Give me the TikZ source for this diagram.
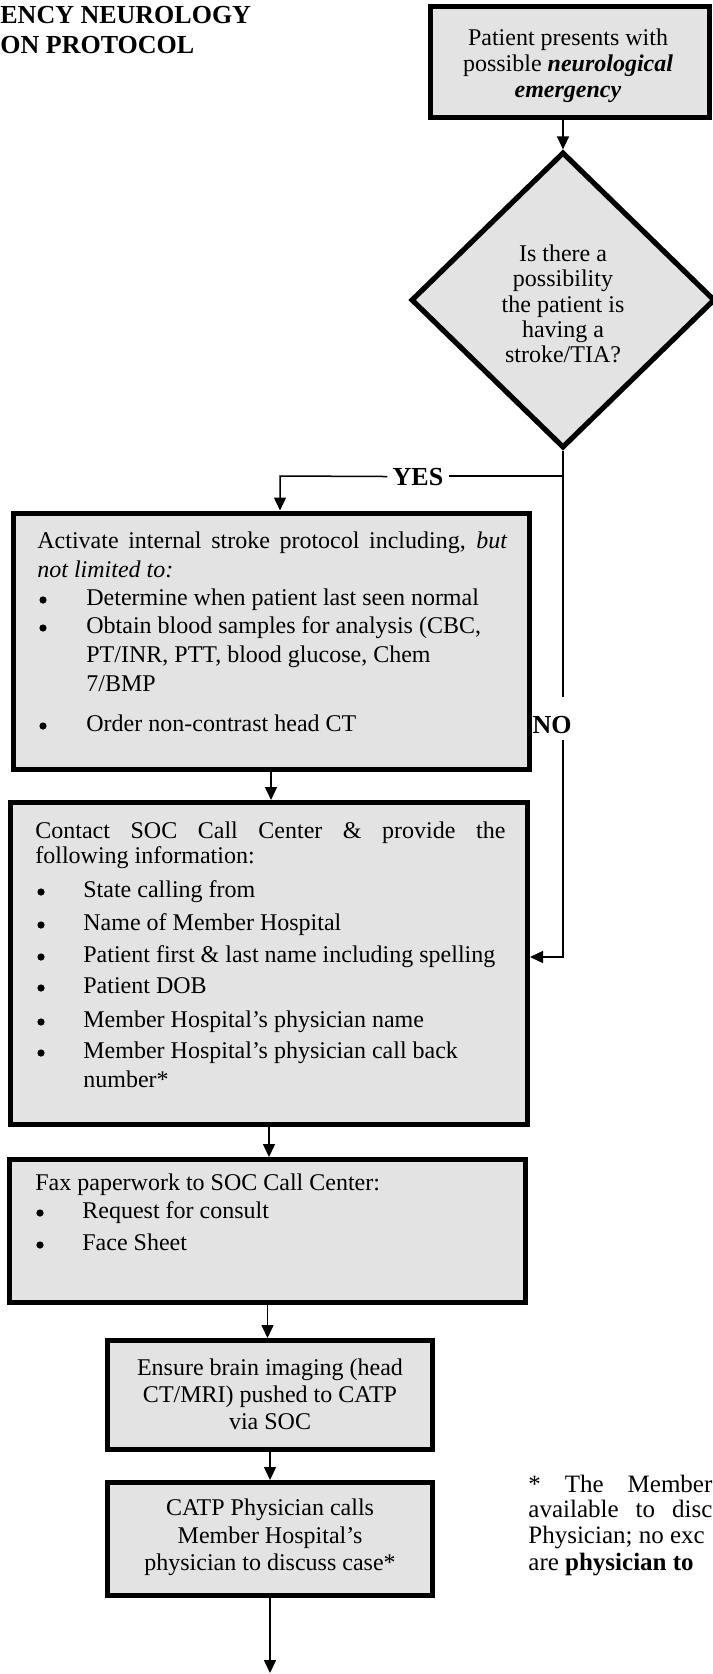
\documentclass[tikz,border=0pt]{standalone}
\usepackage{fontspec}
\setmainfont{Liberation Serif}
\usetikzlibrary{arrows.meta,shapes.geometric,fit}
\definecolor{boxfill}{gray}{0.89}
\newcommand\bodyfs{\fontsize{12pt}{14pt}\selectfont}
\newcommand\footfs{\fontsize{12.5pt}{14pt}\selectfont}
\newcommand\labfs{\fontsize{13pt}{15pt}\selectfont\bfseries}
\begin{document}
\begin{tikzpicture}[x=0.5pt,y=-0.5pt,
  box/.style={draw=black, line width=2.5pt, fill=boxfill, inner sep=0pt},
  dia/.style={draw=black, line width=2.6pt, fill=boxfill, diamond, inner sep=0pt, minimum width=152pt, minimum height=148pt},
  ltxt/.style={anchor=base west, inner sep=0pt, font=\bodyfs},
  ctxt/.style={anchor=base, inner sep=0pt, font=\bodyfs},
  ftxt/.style={anchor=base west, inner sep=0pt, font=\footfs},
  lab/.style={anchor=base, font=\labfs},
  bul/.style={circle, fill=black, inner sep=0pt, minimum size=3.6pt},
  conn/.style={line width=0.75pt},
  arr/.style={line width=0.75pt, -{Triangle[length=6.5pt,width=6pt]}}]
\useasboundingbox (0,0) rectangle (712,1674);

% title (cut off at the left edge)
\node[anchor=base west, inner sep=0pt, font=\labfs] (title1) at (0,24) {ENCY NEUROLOGY};
\node[anchor=base west, inner sep=0pt, font=\labfs] (title2) at (0,54) {ON PROTOCOL};

% start box
\node[box, fit={(430.5,6.5) (709.5,117.5)}] (start) {};
\node[ctxt] (s1) at (568,46) {Patient presents with};
\node[ctxt] (s2) at (568,72) {possible \textbf{\textit{neurological}}};
\node[ctxt] (s3) at (568,98) {\textbf{\textit{emergency}}};

% decision
\node[dia] (dec) at (563,300) {};
\node[ctxt] (d1) at (563,262) {Is there a};
\node[ctxt] (d2) at (563,287) {possibility};
\node[ctxt] (d3) at (563,313) {the patient is};
\node[ctxt] (d4) at (563,338) {having a};
\node[ctxt] (d5) at (563,363) {stroke/TIA?};

\draw[arr] (start.south -| dec.north) -- (dec.north);

% YES / NO labels
\node[lab, inner xsep=2.5pt] (yes) at (418,485) {YES};
\node[lab, inner sep=0pt] (no) at (552,733) {NO};

% activate box
\node[box, fit={(13,513) (529,769)}] (act) {};
\node[ltxt] (a1) at (37,548) {\makebox[235pt][s]{Activate internal stroke protocol including, \textit{but}}};
\node[ltxt] (a2) at (37,577) {\textit{not limited to:}};
\node[bul] (ab1) at (43,600) {};
\node[ltxt] (a3) at (86,605) {Determine when patient last seen normal};
\node[bul] (ab2) at (43,628) {};
\node[ltxt] (a4) at (86,633) {Obtain blood samples for analysis (CBC,};
\node[ltxt] (a5) at (86,662) {PT/INR, PTT, blood glucose, Chem};
\node[ltxt] (a6) at (86,691) {7/BMP};
\node[bul] (ab3) at (43,726) {};
\node[ltxt] (a7) at (86,731) {Order non-contrast head CT};

% contact box
\node[box, fit={(10.5,802.5) (527.5,1124.5)}] (con) {};
\node[ltxt] (c1) at (35,838) {\makebox[235pt][s]{Contact SOC Call Center \& provide the}};
\node[ltxt] (c2) at (35,863) {following information:};
\node[bul] (cb1) at (41,892) {};
\node[ltxt] (c3) at (83,897) {State calling from};
\node[bul] (cb2) at (41,925) {};
\node[ltxt] (c4) at (83,930) {Name of Member Hospital};
\node[bul] (cb3) at (41,957) {};
\node[ltxt] (c5) at (83,962) {Patient first \& last name including spelling};
\node[bul] (cb4) at (41,988) {};
\node[ltxt] (c6) at (83,993) {Patient DOB};
\node[bul] (cb5) at (41,1022) {};
\node[ltxt] (c7) at (83,1027) {Member Hospital’s physician name};
\node[bul] (cb6) at (41,1053) {};
\node[ltxt] (c8) at (83,1058) {Member Hospital’s physician call back};
\node[ltxt] (c9) at (83,1087) {number*};

% fax box
\node[box, fit={(9.5,1159.5) (525.5,1302.5)}] (fax) {};
\node[ltxt] (f1) at (35,1190) {Fax paperwork to SOC Call Center:};
\node[bul] (fb1) at (40,1213) {};
\node[ltxt] (f2) at (82,1218) {Request for consult};
\node[bul] (fb2) at (40,1245) {};
\node[ltxt] (f3) at (82,1250) {Face Sheet};

% ensure box
\node[box, fit={(107.5,1340.5) (432.5,1449.5)}] (ens) {};
\node[ctxt] (e1) at (270,1375) {Ensure brain imaging (head};
\node[ctxt] (e2) at (270,1402) {CT/MRI) pushed to CATP};
\node[ctxt] (e3) at (270,1429) {via SOC};

% CATP box
\node[box, fit={(107.5,1482.5) (432.5,1595.5)}] (catp) {};
\node[ctxt] (p1) at (270,1515) {CATP Physician calls};
\node[ctxt] (p2) at (270,1543) {Member Hospital’s};
\node[ctxt] (p3) at (270,1570) {physician to discuss case*};

% footnote (cut off at the right edge)
\node[ftxt] (n1) at (528,1492) {\makebox[92pt][s]{* The Member}};
\node[ftxt] (n2) at (528,1517) {\makebox[92pt][s]{available to disc}};
\node[ftxt] (n3) at (528,1543) {Physician; no exc};
\node[ftxt] (n4) at (528,1570) {are \textbf{physician to}};

% connectors
\coordinate (yj) at (563,476);
\coordinate (ycorner) at (280,476);
\coordinate (nbreak1) at (563,697);
\coordinate (nbreak2) at (563,740);
\coordinate (ncorner) at (563,957);
\coordinate (endpt) at (270,1673);

\draw[conn] (dec.south) -- (yj) -- (yj -| yes.east);
\draw[arr] (yes.west) -- (ycorner) -- (ycorner |- act.north);
\draw[conn] (yj) -- (nbreak1);
\draw[arr] (nbreak2) -- (ncorner) -- (ncorner -| con.east);
\draw[arr] (act.south) -- (act.south |- con.north);
\draw[arr] (con.south) -- (con.south |- fax.north);
\draw[arr] (fax.south) -- (fax.south |- ens.north);
\draw[arr] (ens.south) -- (catp.north);
\draw[arr] (catp.south) -- (endpt);
\end{tikzpicture}
\end{document}
